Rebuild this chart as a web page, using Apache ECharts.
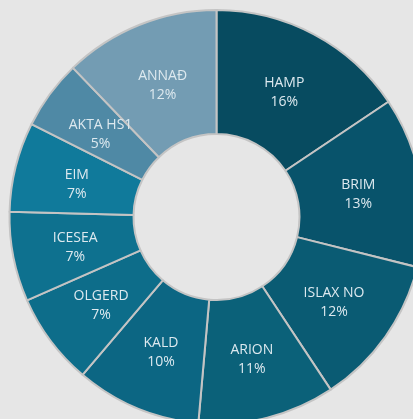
<!DOCTYPE html>
<html>
<head>
<meta charset="utf-8">
<script src="https://cdn.jsdelivr.net/npm/echarts@6/dist/echarts.min.js"></script>
<style>
html,body{margin:0;padding:0;background:#e6e6e6;}
#c{width:413px;height:419px;}
</style>
</head>
<body>
<div id="c"></div>
<script>
const categories = ['HAMP','BRIM','ISLAX NO','ARION','KALD','OLGERD','ICESEA','EIM','AKTA HS1','ANNAÐ'];
const values = [15.6, 13.3, 11.8, 10.7, 9.8, 7.2, 7.0, 7.0, 5.4, 12.2];
const colors = ['#074b60','#08536b','#0a5b73','#0b6179','#0c6683','#0d6d8a','#0e718f','#107a9b','#4f89a5','#739cb3'];

const chart = echarts.init(document.getElementById('c'), null, {renderer:'canvas'});
chart.setOption({
  backgroundColor: '#e6e6e6',
  animation: false,
  series: [{
    type: 'pie',
    center: [216.5, 217],
    radius: [83, 207],
    startAngle: 90,
    clockwise: true,
    avoidLabelOverlap: false,
    data: categories.map((c, i) => ({name: c, value: values[i], itemStyle: {color: colors[i]}})),
    itemStyle: {borderColor: '#c4c4c4', borderWidth: 2},
    label: {show: false},
    labelLine: {show: false},
    emphasis: {disabled: true}
  }, {
    type: 'pie',
    center: [216.5, 219.5],
    radius: [80, 202],
    startAngle: 90,
    clockwise: true,
    avoidLabelOverlap: false,
    silent: true,
    data: categories.map((c, i) => ({name: c, value: values[i]})),
    itemStyle: {color: 'rgba(0,0,0,0)', borderWidth: 0},
    label: {
      show: true,
      position: 'inside',
      color: '#dde9ef',
      fontFamily: 'Open Sans',
      fontSize: 14,
      lineHeight: 19,
      formatter: p => p.name + '\n' + Math.round(p.percent) + '%'
    },
    labelLine: {show: false},
    emphasis: {disabled: true}
  }]
});
</script>
</body>
</html>
